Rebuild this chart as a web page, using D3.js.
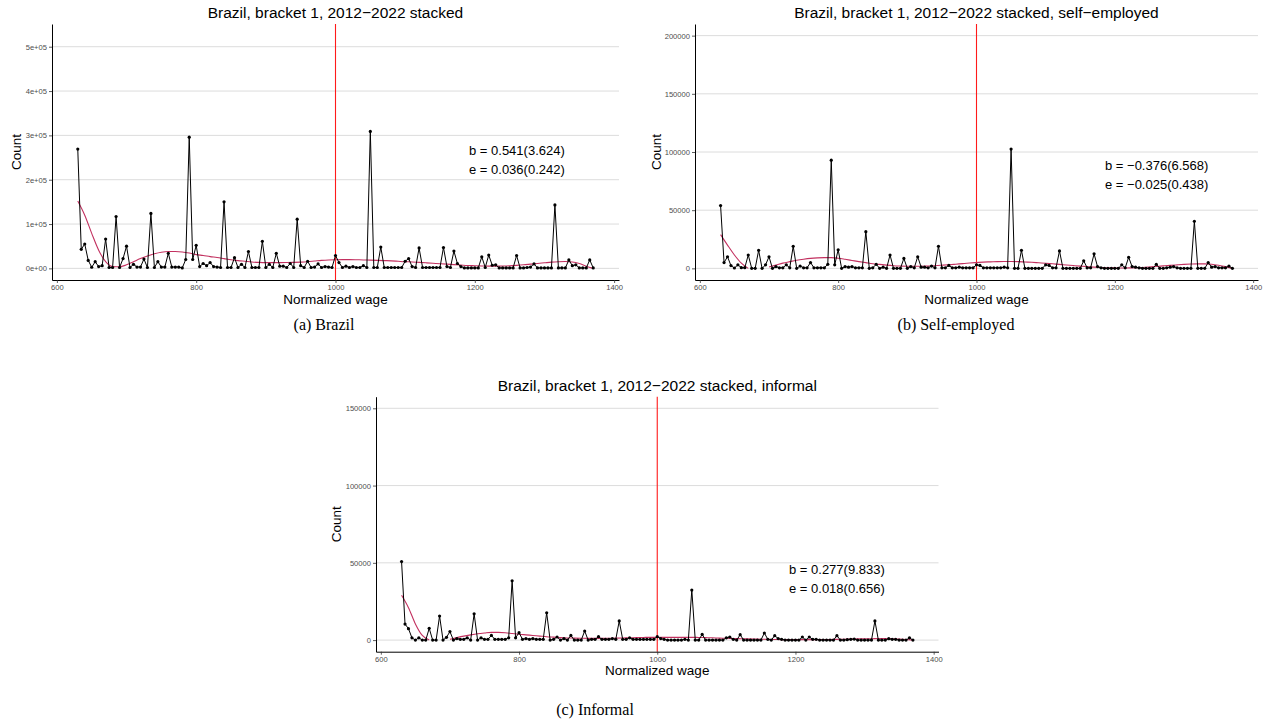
<!DOCTYPE html>
<html>
<head>
<meta charset="utf-8">
<script src="https://cdn.jsdelivr.net/npm/d3@7"></script>
<style>
body { margin: 0; background: #fff; }
svg { display: block; font-family: "Liberation Sans", Arial, sans-serif; }
</style>
</head>
<body>
<svg id="chart"></svg>
<script>
// wage bins (x) shared by all three panels
let wages = [
  630, 635, 640, 645, 650, 655, 660, 665, 670, 675,
  680, 685, 690, 695, 700, 705, 710, 715, 720, 725,
  730, 735, 740, 745, 750, 755, 760, 765, 770, 775,
  780, 785, 790, 795, 800, 805, 810, 815, 820, 825,
  830, 835, 840, 845, 850, 855, 860, 865, 870, 875,
  880, 885, 890, 895, 900, 905, 910, 915, 920, 925,
  930, 935, 940, 945, 950, 955, 960, 965, 970, 975,
  980, 985, 990, 995, 1000, 1005, 1010, 1015, 1020, 1025,
  1030, 1035, 1040, 1045, 1050, 1055, 1060, 1065, 1070, 1075,
  1080, 1085, 1090, 1095, 1100, 1105, 1110, 1115, 1120, 1125,
  1130, 1135, 1140, 1145, 1150, 1155, 1160, 1165, 1170, 1175,
  1180, 1185, 1190, 1195, 1200, 1205, 1210, 1215, 1220, 1225,
  1230, 1235, 1240, 1245, 1250, 1255, 1260, 1265, 1270, 1275,
  1280, 1285, 1290, 1295, 1300, 1305, 1310, 1315, 1320, 1325,
  1330, 1335, 1340, 1345, 1350, 1355, 1360, 1365, 1370
]

let countAll = [
  269000, 43000, 55000, 18000, 2500, 15000, 4000, 6000, 66000, 2000,
  2000, 117000, 2000, 22000, 50000, 2000, 9000, 3000, 3000, 21000,
  2000, 124000, 2000, 15000, 3000, 3000, 34000, 3000, 3000, 3000,
  1000, 20000, 296000, 20000, 52000, 4000, 11000, 6000, 13000, 4000,
  3000, 2000, 150000, 2000, 2000, 24000, 2000, 9000, 2000, 38000,
  2000, 2000, 2000, 61000, 2000, 9000, 2000, 34000, 5000, 5000,
  2000, 11000, 2000, 111000, 6000, 2000, 16000, 2000, 3000, 10000,
  2000, 4000, 3000, 2000, 29000, 13000, 2000, 5000, 2000, 4000,
  2000, 2000, 6000, 2000, 309000, 2000, 2000, 48000, 2000, 2000,
  2000, 2000, 2000, 2000, 16000, 22000, 4000, 2000, 46000, 2000,
  2000, 2000, 2000, 2000, 2000, 47000, 4000, 2000, 39000, 11000,
  4000, 1000, 1000, 1000, 1000, 1000, 26000, 2000, 30000, 7000,
  8000, 1000, 1000, 1000, 1000, 1000, 29000, 1000, 1000, 2000,
  3000, 10000, 1000, 1000, 1000, 1000, 1000, 143000, 1000, 1000,
  1000, 19000, 6000, 8000, 1000, 1000, 1000, 19000, 1000
]

let countSelf = [
  54000, 5000, 10000, 2400, 300, 3000, 600, 600, 11500, 0,
  0, 15500, 0, 3000, 10000, 0, 1500, 500, 500, 3000,
  500, 19000, 0, 2000, 500, 500, 5000, 500, 500, 500,
  500, 3500, 93000, 3000, 16000, 0, 1500, 1000, 1500, 500,
  500, 500, 31500, 0, 500, 3500, 0, 1000, 0, 11500,
  0, 0, 0, 8500, 0, 1500, 500, 10000, 1000, 1000,
  500, 2000, 500, 19000, 500, 500, 2500, 500, 500, 1000,
  500, 500, 500, 500, 3000, 2500, 500, 500, 500, 500,
  500, 500, 1000, 500, 102500, 0, 0, 15500, 0, 0,
  0, 0, 0, 0, 3000, 2500, 500, 500, 15000, 0,
  0, 0, 0, 0, 0, 6500, 500, 500, 12500, 1500,
  500, 0, 0, 0, 0, 0, 3000, 500, 9500, 1500,
  1000, 500, 0, 0, 0, 0, 3500, 0, 0, 500,
  1000, 1500, 500, 0, 0, 0, 0, 40500, 0, 0,
  0, 5000, 1000, 1500, 500, 500, 500, 2000, 0
]

let countInformal = [
  50800, 10400, 7400, 1500, 0, 1500, 0, 0, 7600, 0,
  0, 15600, 0, 1800, 5500, 0, 1000, 500, 500, 1500,
  0, 17000, 0, 1500, 500, 500, 3000, 500, 500, 500,
  500, 1500, 38400, 1500, 4800, 500, 1000, 500, 1000, 500,
  500, 500, 17700, 0, 500, 2000, 0, 1000, 0, 3000,
  0, 0, 0, 5900, 0, 500, 500, 2200, 500, 500,
  500, 1000, 500, 12400, 500, 500, 1500, 500, 500, 500,
  500, 500, 500, 500, 2200, 1000, 500, 0, 0, 0,
  0, 0, 500, 0, 32400, 0, 0, 3700, 0, 0,
  0, 0, 0, 0, 1500, 2000, 500, 0, 3500, 0,
  0, 0, 0, 0, 0, 4600, 500, 0, 2900, 1000,
  500, 0, 0, 0, 0, 0, 2000, 0, 2000, 500,
  500, 0, 0, 0, 0, 0, 2900, 0, 0, 300,
  500, 700, 0, 0, 0, 0, 0, 12400, 0, 0,
  0, 900, 500, 500, 0, 0, 0, 1500, 0
]

// smoothed fit (null = dropped below the axis limit)
let fitWages = [
  630, 640, 650, 660, 670, 680, 690, 700, 710, 720,
  730, 740, 750, 760, 770, 780, 790, 800, 810, 820,
  830, 840, 850, 860, 870, 880, 890, 900, 910, 920,
  930, 940, 950, 960, 970, 980, 990, 1000, 1010, 1020,
  1030, 1040, 1050, 1060, 1070, 1080, 1090, 1100, 1110, 1120,
  1130, 1140, 1150, 1160, 1170, 1180, 1190, 1200, 1210, 1220,
  1230, 1240, 1250, 1260, 1270, 1280, 1290, 1300, 1310, 1320,
  1330, 1340, 1350, 1360, 1370
]

let fitAll = [
  152000, 120000, 79000, 41000, 15000, 4000, 3500, 8000, 15000, 22000,
  28000, 33000, 36500, 38000, 38000, 37000, 34500, 31000, 29000, 26500,
  24500, 22000, 19500, 17500, 16000, 14500, 13500, 13000, 13000, 13000,
  13200, 13500, 14000, 15000, 16500, 18000, 19000, 19500, 19800, 19800,
  19500, 19000, 18500, 18000, 17500, 17000, 16000, 15000, 14500, 13500,
  12500, 11500, 10500, 9500, 8500, 7500, 6500, 6000, 5500, 5000,
  5000, 5200, 5800, 6800, 8000, 9500, 11000, 12500, 14000, 15000,
  15500, 14500, 11000, 5000, 0
]

let fitSelf = [
  29000, 20000, 11500, 4500, 0, null, null, 1200, 2800, 4500,
  5800, 7000, 7900, 8600, 9000, 9200, 9200, 8700, 7800, 6800,
  5800, 4900, 4000, 3400, 2800, 2300, 2000, 1800, 1800, 1800,
  2000, 2300, 2700, 3100, 3600, 4100, 4600, 5000, 5400, 5600,
  5800, 5900, 5900, 5800, 5500, 5200, 4800, 4400, 3900, 3400,
  2900, 2400, 1900, 1500, 1100, 800, 500, 400, 300, 400,
  500, 800, 1200, 1600, 2100, 2600, 3000, 3400, 3700, 3900,
  3900, 3600, 2700, 1500, 0
]

let fitInformal = [
  29000, 21000, 10500, 3000, 0, null, null, 500, 1600, 2600,
  3400, 4100, 4600, 5000, 5000, 4800, 4300, 3800, 3400, 3000,
  2600, 2200, 1900, 1600, 1400, 1300, 1200, 1100, 1100, 1100,
  1200, 1300, 1400, 1500, 1600, 1700, 1800, 1800, 1800, 1800,
  1800, 1800, 1800, 1700, 1600, 1500, 1300, 1200, 1000, 900,
  800, 700, 600, 500, 400, 300, 300, 300, 300, 300,
  300, 400, 400, 500, 600, 700, 800, 900, 900, 1000,
  1000, 900, 700, 400, 0
]

let titles = [
  'Brazil, bracket 1, 2012\u22122022 stacked',
  'Brazil, bracket 1, 2012\u22122022 stacked, self\u2212employed',
  'Brazil, bracket 1, 2012\u22122022 stacked, informal'
]
let bLabels = ['b = 0.541(3.624)', 'b = \u22120.376(6.568)', 'b = 0.277(9.833)']
let eLabels = ['e = 0.036(0.242)', 'e = \u22120.025(0.438)', 'e = 0.018(0.656)']
let captions = ['(a)  Brazil', '(b)  Self-employed', '(c)  Informal']

let xTicks = [600, 800, 1000, 1200, 1400]
let yTicksAll = [0, 100000, 200000, 300000, 400000, 500000]
let yLabelsAll = ['0e+00', '1e+05', '2e+05', '3e+05', '4e+05', '5e+05']
let yTicksSelf = [0, 50000, 100000, 150000, 200000]
let yLabelsSelf = ['0', '50000', '100000', '150000', '200000']
let yTicksInformal = [0, 50000, 100000, 150000]
let yLabelsInformal = ['0', '50000', '100000', '150000']

let width = 1270
let height = 721

let svg = d3.select('#chart')
    .attr('width', width)
    .attr('height', height)

let panels = [
    { counts: countAll, fit: fitAll, ticks: yTicksAll, labels: yLabelsAll,
      yMax: 525000, left: 52, right: 619, top: 24, bottom: 280,
      annX: 469, annY: 154.5, countX: 21, capX: 324, capY: 330 },
    { counts: countSelf, fit: fitSelf, ticks: yTicksSelf, labels: yLabelsSelf,
      yMax: 200000, left: 695, right: 1258, top: 24, bottom: 280,
      annX: 1105, annY: 169.5, countX: 661, capX: 956, capY: 330 },
    { counts: countInformal, fit: fitInformal, ticks: yTicksInformal, labels: yLabelsInformal,
      yMax: 150000, left: 376, right: 938.5, top: 396.7, bottom: 651.7,
      annX: 789, annY: 573.5, countX: 341, capX: 595, capY: 715 }
]

let drawPanel = (p, i) => {
    let g = svg.append('g')

    let xScale = d3.scaleLinear()
        .domain([593, 1407])
        .range([p.left, p.right])
    let yScale = d3.scaleLinear()
        .domain([-p.yMax * 0.05, p.yMax * 1.05])
        .range([p.bottom, p.top])

    // horizontal grid
    g.append('g')
        .selectAll('line')
        .data(p.ticks)
        .enter()
        .append('line')
        .attr('x1', p.left)
        .attr('x2', p.right)
        .attr('y1', (d) => yScale(d))
        .attr('y2', (d) => yScale(d))
        .attr('stroke', '#dcdcdc')
        .attr('stroke-width', 1)

    // reference line at 1000
    g.append('line')
        .attr('x1', xScale(1000))
        .attr('x2', xScale(1000))
        .attr('y1', p.top)
        .attr('y2', p.bottom)
        .attr('stroke', '#ff1a1a')
        .attr('stroke-width', 1.1)

    let points = wages.map((w, k) => [w, p.counts[k]])
    let fitPoints = fitWages.map((w, k) => [w, p.fit[k]])

    let fitLine = d3.line()
        .defined((d) => d[1] != null)
        .x((d) => xScale(d[0]))
        .y((d) => yScale(d[1]))
        .curve(d3.curveMonotoneX)

    g.append('path')
        .datum(fitPoints)
        .attr('d', fitLine)
        .attr('fill', 'none')
        .attr('stroke', '#c2305f')
        .attr('stroke-width', 1.1)

    let dataLine = d3.line()
        .x((d) => xScale(d[0]))
        .y((d) => yScale(d[1]))

    g.append('path')
        .datum(points)
        .attr('d', dataLine)
        .attr('fill', 'none')
        .attr('stroke', '#000')
        .attr('stroke-width', 1)

    g.append('g')
        .selectAll('circle')
        .data(points)
        .enter()
        .append('circle')
        .attr('cx', (d) => xScale(d[0]))
        .attr('cy', (d) => yScale(d[1]))
        .attr('r', 1.6)
        .attr('fill', '#000')

    // axes
    let yAxis = d3.axisLeft(yScale)
        .tickValues(p.ticks)
        .tickFormat((d, k) => p.labels[k])
        .tickSize(3)
        .tickSizeOuter(0)
        .tickPadding(2)
    let xAxis = d3.axisBottom(xScale)
        .tickValues(xTicks)
        .tickFormat(d3.format('d'))
        .tickSize(3)
        .tickSizeOuter(0)
        .tickPadding(2)

    let ya = g.append('g')
        .attr('transform', 'translate(' + p.left + ', 0)')
        .call(yAxis)
    let xa = g.append('g')
        .attr('transform', 'translate(0, ' + p.bottom + ')')
        .call(xAxis)

    ;[ya, xa].forEach((a) => {
        a.attr('font-family', '"Liberation Sans", Arial, sans-serif')
         .attr('font-size', 7.6)
        a.select('.domain').attr('stroke', '#000').attr('stroke-width', 1)
        a.selectAll('.tick line').attr('stroke', '#333').attr('stroke-width', 0.8)
        a.selectAll('.tick text').attr('fill', '#4d4d4d')
    })

    let cx = (p.left + p.right) / 2

    g.append('text')
        .attr('x', cx)
        .attr('y', p.top - 6)
        .attr('text-anchor', 'middle')
        .attr('font-size', 15.5)
        .attr('fill', '#000')
        .text(titles[i])

    g.append('text')
        .attr('x', cx)
        .attr('y', p.bottom + 23.5)
        .attr('text-anchor', 'middle')
        .attr('font-size', 13.5)
        .text('Normalized wage')

    g.append('text')
        .attr('transform', 'translate(' + p.countX + ', ' + ((p.top + p.bottom) / 2) + ') rotate(-90)')
        .attr('text-anchor', 'middle')
        .attr('font-size', 13.5)
        .text('Count')

    g.append('text')
        .attr('x', p.annX)
        .attr('y', p.annY)
        .attr('font-size', 13)
        .text(bLabels[i])
    g.append('text')
        .attr('x', p.annX)
        .attr('y', p.annY + 19)
        .attr('font-size', 13)
        .text(eLabels[i])

    svg.append('text')
        .attr('x', p.capX)
        .attr('y', p.capY)
        .attr('text-anchor', 'middle')
        .attr('font-family', '"Liberation Serif", "DejaVu Serif", serif')
        .attr('font-size', 16)
        .text(captions[i])
}

panels.forEach(drawPanel)
</script>
</body>
</html>
